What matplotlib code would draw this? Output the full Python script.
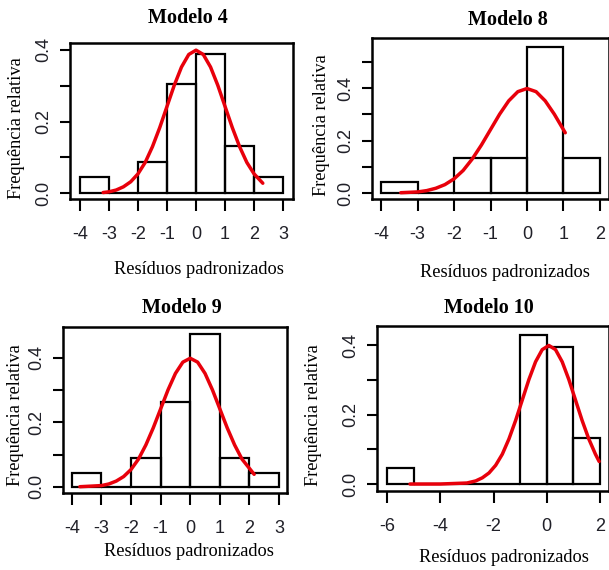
import numpy as np
import matplotlib
matplotlib.use('Agg')
import matplotlib.pyplot as plt

# Histogram data (relative frequency per unit bin)
titles = ['Modelo 4', 'Modelo 8', 'Modelo 9', 'Modelo 10']
edges_m4 = [-4, -3, -2, -1, 0, 1, 2, 3]
freq_m4 = [0.045, 0.0, 0.087, 0.306, 0.388, 0.133, 0.046]
edges_m8 = [-4, -3, -2, -1, 0, 1, 2]
freq_m8 = [0.043, 0.0, 0.134, 0.134, 0.557, 0.134]
edges_m9 = [-4, -3, -2, -1, 0, 1, 2, 3]
freq_m9 = [0.043, 0.0, 0.09, 0.264, 0.474, 0.09, 0.043]
edges_m10 = [-6, -5, -4, -3, -2, -1, 0, 1, 2]
freq_m10 = [0.046, 0.0, 0.0, 0.0, 0.0, 0.43, 0.394, 0.132]

# Red fitted density curves
curve_x_m4 = [-3.2, -3.0, -2.75, -2.5, -2.25, -2.0, -1.75, -1.5, -1.25, -1.0, -0.75, -0.5, -0.25,
              0.0, 0.25, 0.5, 0.75, 1.0, 1.25, 1.5, 1.75, 2.0, 2.3]
curve_y_m4 = [0.002, 0.004, 0.009, 0.018, 0.032, 0.054, 0.086, 0.130, 0.183, 0.242, 0.301, 0.352, 0.387,
              0.399, 0.387, 0.352, 0.301, 0.242, 0.183, 0.130, 0.086, 0.054, 0.028]
curve_x_m8 = [-3.46, -3.0, -2.75, -2.5, -2.25, -2.0, -1.75, -1.5, -1.25, -1.0, -0.75, -0.5, -0.25,
              0.0, 0.25, 0.5, 0.75, 1.05]
curve_y_m8 = [0.001, 0.004, 0.009, 0.018, 0.032, 0.054, 0.086, 0.130, 0.183, 0.242, 0.301, 0.352, 0.387,
              0.399, 0.387, 0.352, 0.301, 0.230]
curve_x_m9 = [-3.73, -3.0, -2.75, -2.5, -2.25, -2.0, -1.75, -1.5, -1.25, -1.0, -0.75, -0.5, -0.25,
              0.0, 0.25, 0.5, 0.75, 1.0, 1.25, 1.5, 1.75, 2.16]
curve_y_m9 = [0.0005, 0.004, 0.009, 0.018, 0.032, 0.054, 0.086, 0.130, 0.183, 0.242, 0.301, 0.352, 0.387,
              0.399, 0.387, 0.352, 0.301, 0.242, 0.183, 0.130, 0.086, 0.039]
curve_x_m10 = [-5.14, -4.0, -3.0, -2.67, -2.42, -2.17, -1.92, -1.67, -1.42, -1.17, -0.92, -0.67, -0.42,
               -0.17, 0.08, 0.33, 0.58, 0.83, 1.08, 1.33, 1.58, 1.83, 1.97]
curve_y_m10 = [0.0, 0.0001, 0.003, 0.009, 0.018, 0.032, 0.054, 0.086, 0.130, 0.183, 0.242, 0.301, 0.352,
               0.387, 0.399, 0.387, 0.352, 0.301, 0.242, 0.183, 0.130, 0.086, 0.065]

xticks_m4 = [-4, -3, -2, -1, 0, 1, 2, 3]
xticks_m8 = [-4, -3, -2, -1, 0, 1, 2]
xticks_m10 = [-6, -4, -2, 0, 2]
yticks_m4 = [0.0, 0.1, 0.2, 0.3, 0.4]
yticks_m8 = [0.0, 0.1, 0.2, 0.3, 0.4, 0.5]

W, H = 609, 570
fig = plt.figure(figsize=(W / 100, H / 100), dpi=100)

serif = 'Liberation Serif'
sans = 'Liberation Sans'


def px_axes(left, top, right, bottom):
    return fig.add_axes([left / W, 1 - bottom / H, (right - left) / W, (bottom - top) / H])


def draw_panel(ax, edges, freq, cx, cy, xticks, yticks, xlim, ylim):
    ax.bar(edges[:-1], freq, width=1.0, align='edge', fill=False,
           edgecolor='black', linewidth=1.6)
    ax.plot(cx, cy, color='#e8000b', linewidth=2.5, solid_capstyle='round')
    ax.set_xlim(*xlim)
    ax.set_ylim(*ylim)
    ax.set_xticks(xticks)
    ax.set_xticklabels([str(t) for t in xticks], fontfamily=sans, fontsize=13, color='#202028')
    ax.set_yticks(yticks)
    ax.set_yticklabels(['%.1f' % t if round(t * 10) % 2 == 0 else '' for t in yticks],
                       fontfamily=sans, fontsize=13, color='#202028',
                       rotation=90, va='center')
    ax.tick_params(axis='x', direction='out', length=8.5, width=1.5, pad=11)
    ax.tick_params(axis='y', direction='out', length=7.5, width=1.5, pad=5)
    for s in ax.spines.values():
        s.set_linewidth(1.8)


panels = [
    (px_axes(70, 43, 293, 199), edges_m4, freq_m4, curve_x_m4, curve_y_m4, xticks_m4, yticks_m4,
     (-4.34, 3.34), (-0.016, 0.419)),
    (px_axes(372, 38, 609, 199), edges_m8, freq_m8, curve_x_m8, curve_y_m8, xticks_m8, yticks_m8,
     (-4.25, 2.25), (-0.023, 0.592)),
    (px_axes(63, 327, 287, 493), edges_m9, freq_m9, curve_x_m9, curve_y_m9, xticks_m4, yticks_m4,
     (-4.3, 3.27), (-0.019, 0.496)),
    (px_axes(377, 326, 609, 491), edges_m10, freq_m10, curve_x_m10, curve_y_m10, xticks_m10, yticks_m4,
     (-6.38, 2.34), (-0.02, 0.455)),
]
for p in panels:
    draw_panel(*p)

title_pos = [(188, 18), (508, 20), (182, 308), (489, 308)]
xlab_pos = [(199, 270), (505, 273), (189, 552), (504, 558)]
ylab_pos = [(17, 128), (321, 125), (16, 415), (313, 415)]

for t, (tx, ty), (lx, ly), (yx, yy) in zip(titles, title_pos, xlab_pos, ylab_pos):
    fig.text(tx / W, 1 - ty / H, t, ha='center', va='center',
             fontfamily=serif, fontweight='bold', fontsize=14.5)
    fig.text(lx / W, 1 - ly / H, 'Resíduos padronizados', ha='center', va='center',
             fontfamily=serif, fontsize=13.2)
    fig.text(yx / W, 1 - yy / H, 'Frequência relativa', ha='center', va='center',
             rotation=90, fontfamily=serif, fontsize=13.2)

fig.savefig('out.png', dpi=100)
